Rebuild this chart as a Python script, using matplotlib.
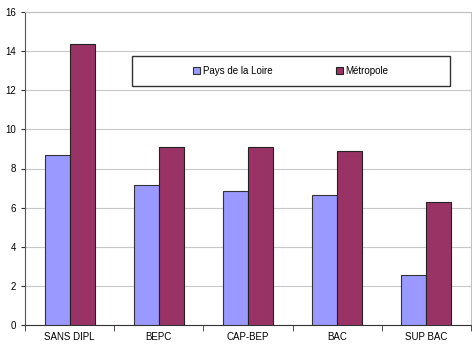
import numpy as np
import matplotlib
matplotlib.use("Agg")
import matplotlib.pyplot as plt
from matplotlib.patches import Rectangle

plt.rcParams['font.family'] = ['Liberation Sans', 'DejaVu Sans']

categories = ["SANS DIPL", "BEPC", "CAP-BEP", "BAC", "SUP BAC"]
pays_loire = [8.68, 7.14, 6.87, 6.65, 2.56]
metropole = [14.34, 9.11, 9.08, 8.87, 6.31]
series_names = ["Pays de la Loire", "Métropole"]

fig = plt.figure(figsize=(4.72, 3.46), dpi=100)
ax = fig.add_axes([25 / 472, 1 - 325 / 346, 446 / 472, 313 / 346])

x = np.arange(len(categories))
w = 0.28
ax.bar(x - w / 2, pays_loire, w, color="#9999FF", edgecolor="#333333",
       linewidth=0.8, label=series_names[0], zorder=3)
ax.bar(x + w / 2, metropole, w, color="#993366", edgecolor="#222222",
       linewidth=0.8, label=series_names[1], zorder=3)

ax.set_xlim(-0.5, len(categories) - 0.5)
ax.set_ylim(0, 16)
ax.set_yticks(np.arange(0, 17, 2))
ax.yaxis.grid(True, color="#c8c8c8", linewidth=0.8, zorder=0)

# category labels centred, ticks on the boundaries
ax.set_xticks(x)
ax.set_xticklabels(categories)
ax.tick_params(axis="x", length=0, labelsize=7, pad=5)
ax.set_xticks(np.arange(-0.5, len(categories)), minor=True)
ax.tick_params(axis="x", which="minor", length=4, direction="out", color="#333333")
ax.tick_params(axis="y", length=3, direction="out", labelsize=7, color="#333333")

for s in ["top", "right"]:
    ax.spines[s].set_color("#c0c0c0")
ax.spines["left"].set_color("#555555")
ax.spines["bottom"].set_color("#333333")

# legend box
box = Rectangle((107 / 446, (325 - 86) / 313), 318 / 446, 30 / 313,
                transform=ax.transAxes, facecolor="white", edgecolor="#333333",
                linewidth=1.0, zorder=4)
ax.add_patch(box)
ax.legend(loc="center", bbox_to_anchor=(266 / 446, (325 - 71) / 313),
          ncol=2, frameon=False, fontsize=7, handlelength=0.7,
          handleheight=0.7, handletextpad=0.3, columnspacing=6.5)
ax.get_legend().set_zorder(5)

fig.savefig("out.png", dpi=100)
